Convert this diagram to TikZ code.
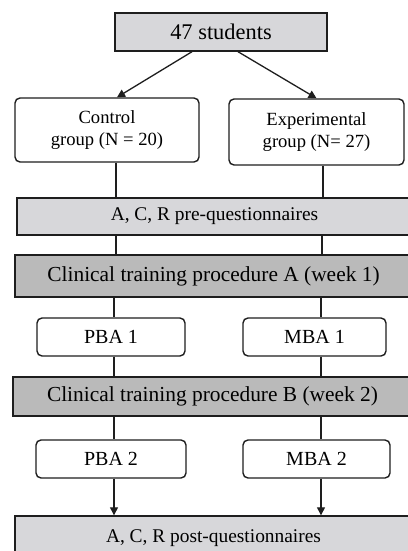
\documentclass[tikz,border=0pt]{standalone}
\usepackage{fontspec}
\setmainfont{Liberation Serif}
\usetikzlibrary{arrows.meta}
\definecolor{lightbox}{RGB}{215,215,218}
\definecolor{darkbox}{RGB}{186,186,186}
\definecolor{inkline}{RGB}{30,30,30}
\tikzset{
    box/.style={draw=inkline, line width=1.4pt, inner sep=0pt, align=center, text=black,
        font=\fontsize{20}{22}\selectfont},
    roundbox/.style={box, fill=white, rounded corners=5pt},
    lightbar/.style={box, fill=lightbox},
    darkbar/.style={box, fill=darkbox, font=\fontsize{21.4}{24}\selectfont},
    link/.style={draw=inkline, line width=1.3pt},
    arr/.style={link, -{Triangle[length=8pt, width=8pt]}}
}
\begin{document}
\begin{tikzpicture}[x=1pt, y=-1pt]
                    \useasboundingbox[fill=white] (0,0) rectangle (407,551);
                    \coordinate (L) at (114,0);
                    \coordinate (R) at (321,0);
                    \node[lightbar, minimum width=212, minimum height=38, font=\fontsize{22.4}{24}\selectfont] (top) at (221,32) {47 students};
                    \node[roundbox, minimum width=184, minimum height=64, font=\fontsize{18.6}{22}\selectfont] (ctrl) at (107,130) {Control\\group (N = 20)};
                    \node[roundbox, minimum width=175, minimum height=66, font=\fontsize{18.6}{22}\selectfont] (expt) at (316.5,132) {Experimental\\group (N= 27)};
                    \node[lightbar, minimum width=395, minimum height=37, font=\fontsize{19.4}{22}\selectfont] (preq) at (214.5,216.5) {A, C, R pre-questionnaires};
                    \node[darkbar, minimum width=397, minimum height=42] (clinA) at (213.5,276) {Clinical training procedure A (week 1)};
                    \node[roundbox, minimum width=148, minimum height=38] (pba1) at (111,337) {PBA 1};
                    \node[roundbox, minimum width=143, minimum height=38] (mba1) at (314.5,337) {MBA 1};
                    \node[darkbar, minimum width=399, minimum height=39] (clinB) at (212.5,396.5) {Clinical training procedure B (week 2)};
                    \node[roundbox, minimum width=150, minimum height=38] (pba2) at (111,459) {PBA 2};
                    \node[roundbox, minimum width=147, minimum height=38] (mba2) at (316.5,459) {MBA 2};
                    \node[lightbar, minimum width=397, minimum height=44, font=\fontsize{19.4}{22}\selectfont] (postq) at (213.5,538) {A, C, R post-questionnaires};
                    \draw[arr] ([xshift=-29pt]top.south) -- ([xshift=10pt]ctrl.north);
                    \draw[arr] ([xshift=17pt]top.south) -- (expt.north);
                    \draw[link] (ctrl.south -| 116,0) -- (preq.north -| 116,0);
                    \draw[link] (expt.south -| 323,0) -- (preq.north -| 323,0);
                    \draw[link] (preq.south -| 116,0) -- (clinA.north -| 116,0);
                    \draw[link] (preq.south -| 322,0) -- (clinA.north -| 322,0);
                    \draw[link] (clinA.south -| L) -- (pba1.north -| L);
                    \draw[link] (clinA.south -| R) -- (mba1.north -| R);
                    \draw[link] (pba1.south -| L) -- (clinB.north -| L);
                    \draw[link] (mba1.south -| R) -- (clinB.north -| R);
                    \draw[link] (clinB.south -| L) -- (pba2.north -| L);
                    \draw[link] (clinB.south -| R) -- (mba2.north -| R);
                    \draw[arr] (pba2.south -| L) -- (postq.north -| L);
                    \draw[arr] (mba2.south -| R) -- (postq.north -| R);
                \end{tikzpicture}
\end{document}
